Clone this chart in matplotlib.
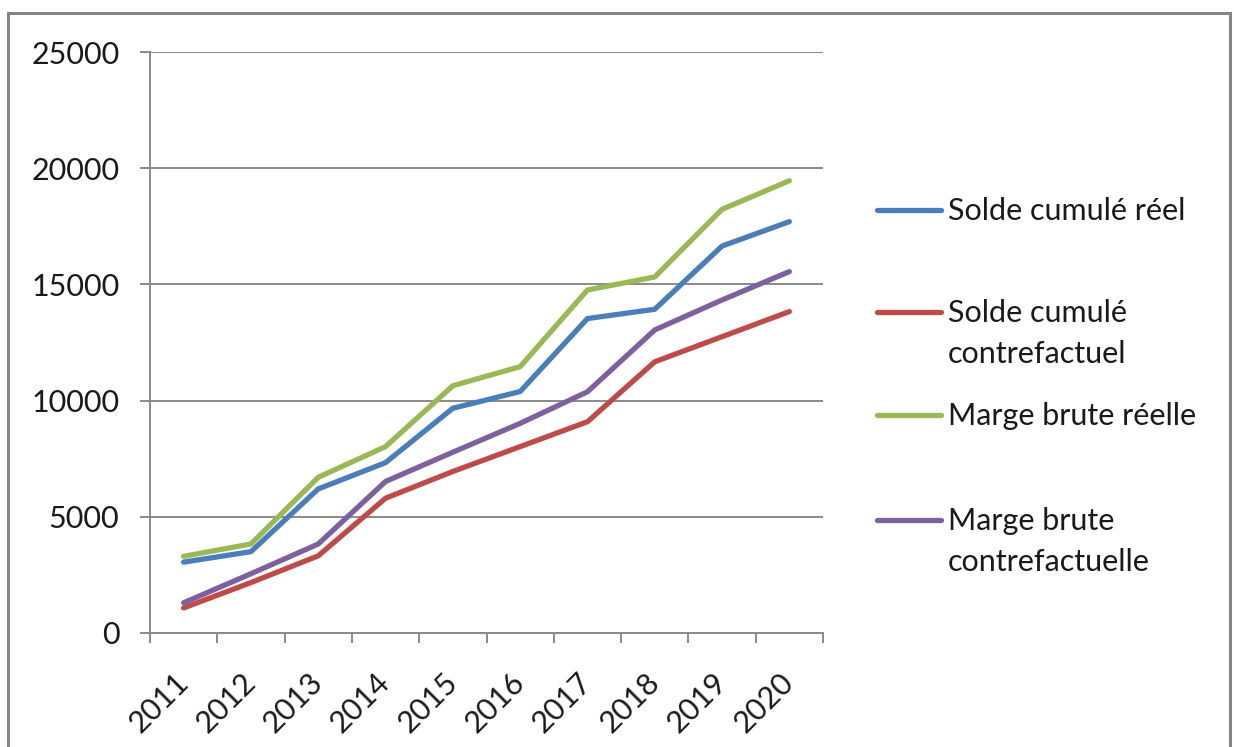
import numpy as np
import matplotlib
matplotlib.use("Agg")
import matplotlib.pyplot as plt
from matplotlib.lines import Line2D
from matplotlib.patches import Rectangle

# data
years = ["2011", "2012", "2013", "2014", "2015", "2016", "2017", "2018", "2019", "2020"]
solde_reel = [3050, 3500, 6200, 7330, 9670, 10390, 13530, 13930, 16650, 17700]
solde_contref = [1080, 2170, 3320, 5800, 6950, 8020, 9090, 11670, 12750, 13830]
marge_reelle = [3300, 3830, 6700, 8020, 10640, 11460, 14760, 15320, 18230, 19460]
marge_contref = [1300, 2550, 3830, 6520, 7780, 9020, 10380, 13040, 14330, 15550]

series_names = ["Solde cumulé réel", "Solde cumulé\ncontrefactuel",
                "Marge brute réelle", "Marge brute\ncontrefactuelle"]
series_values = [solde_reel, solde_contref, marge_reelle, marge_contref]
colors = ["#4a7ebb", "#be4b48", "#98b954", "#7d60a0"]

yticks = [0, 5000, 10000, 15000, 20000, 25000]

plt.rcParams["font.family"] = ["Lato", "DejaVu Sans"]

W, H = 1234, 747
fig = plt.figure(figsize=(W / 100, H / 100), dpi=100)
ax = fig.add_axes([150 / W, 1 - 633 / H, (823 - 150) / W, (633 - 52) / H])

x = np.arange(len(years))
grey = "#8a8a8a"
fs = 22

# gridlines first so lines sit on top
ax.set_ylim(0, 25000)
ax.set_xlim(-0.5, len(years) - 0.5)
ax.set_yticks(yticks)
ax.yaxis.grid(True, color=grey, linewidth=1.4)
ax.set_axisbelow(True)

for vals, col in zip(series_values, colors):
    ax.plot(x, vals, color=col, linewidth=3.8, solid_joinstyle="round",
            solid_capstyle="round", zorder=3)

for side in ["top", "right"]:
    ax.spines[side].set_visible(False)
for side in ["left", "bottom"]:
    ax.spines[side].set_color(grey)
    ax.spines[side].set_linewidth(1.4)

ax.tick_params(axis="y", length=7, width=1.4, color=grey, pad=15,
               labelsize=fs, labelcolor="#1a1a1a")
ax.set_xticks(x)
ax.set_xticklabels(years, rotation=45, ha="right", va="center",
                   rotation_mode="anchor")
ax.set_xticks(np.arange(-0.5, len(years)), minor=True)
ax.tick_params(axis="x", which="major", length=0, pad=32, labelsize=fs,
               labelcolor="#1a1a1a")
ax.tick_params(axis="x", which="minor", length=7, width=1.4, color=grey)

# legend drawn by hand so the handle lines up with the first text line
legend_rows = [210, 312, 415, 520]
for name, col, yy in zip(series_names, colors, legend_rows):
    fy = 1 - yy / H
    fig.add_artist(Line2D([877 / W, 941 / W], [fy, fy], color=col,
                          linewidth=3.8, solid_capstyle="round",
                          transform=fig.transFigure))
    fig.text(948 / W, 1 - (yy - 13) / H, name, fontsize=fs, color="#1a1a1a",
             va="top", ha="left", linespacing=1.55,
             transform=fig.transFigure)

# outer chart frame
fig.add_artist(Rectangle((8 / W, -0.02), (1230 - 8) / W, (1 - 13 / H) + 0.02,
                         fill=False, edgecolor="#858585", linewidth=2.2,
                         transform=fig.transFigure))

fig.savefig("out.png", dpi=100)
